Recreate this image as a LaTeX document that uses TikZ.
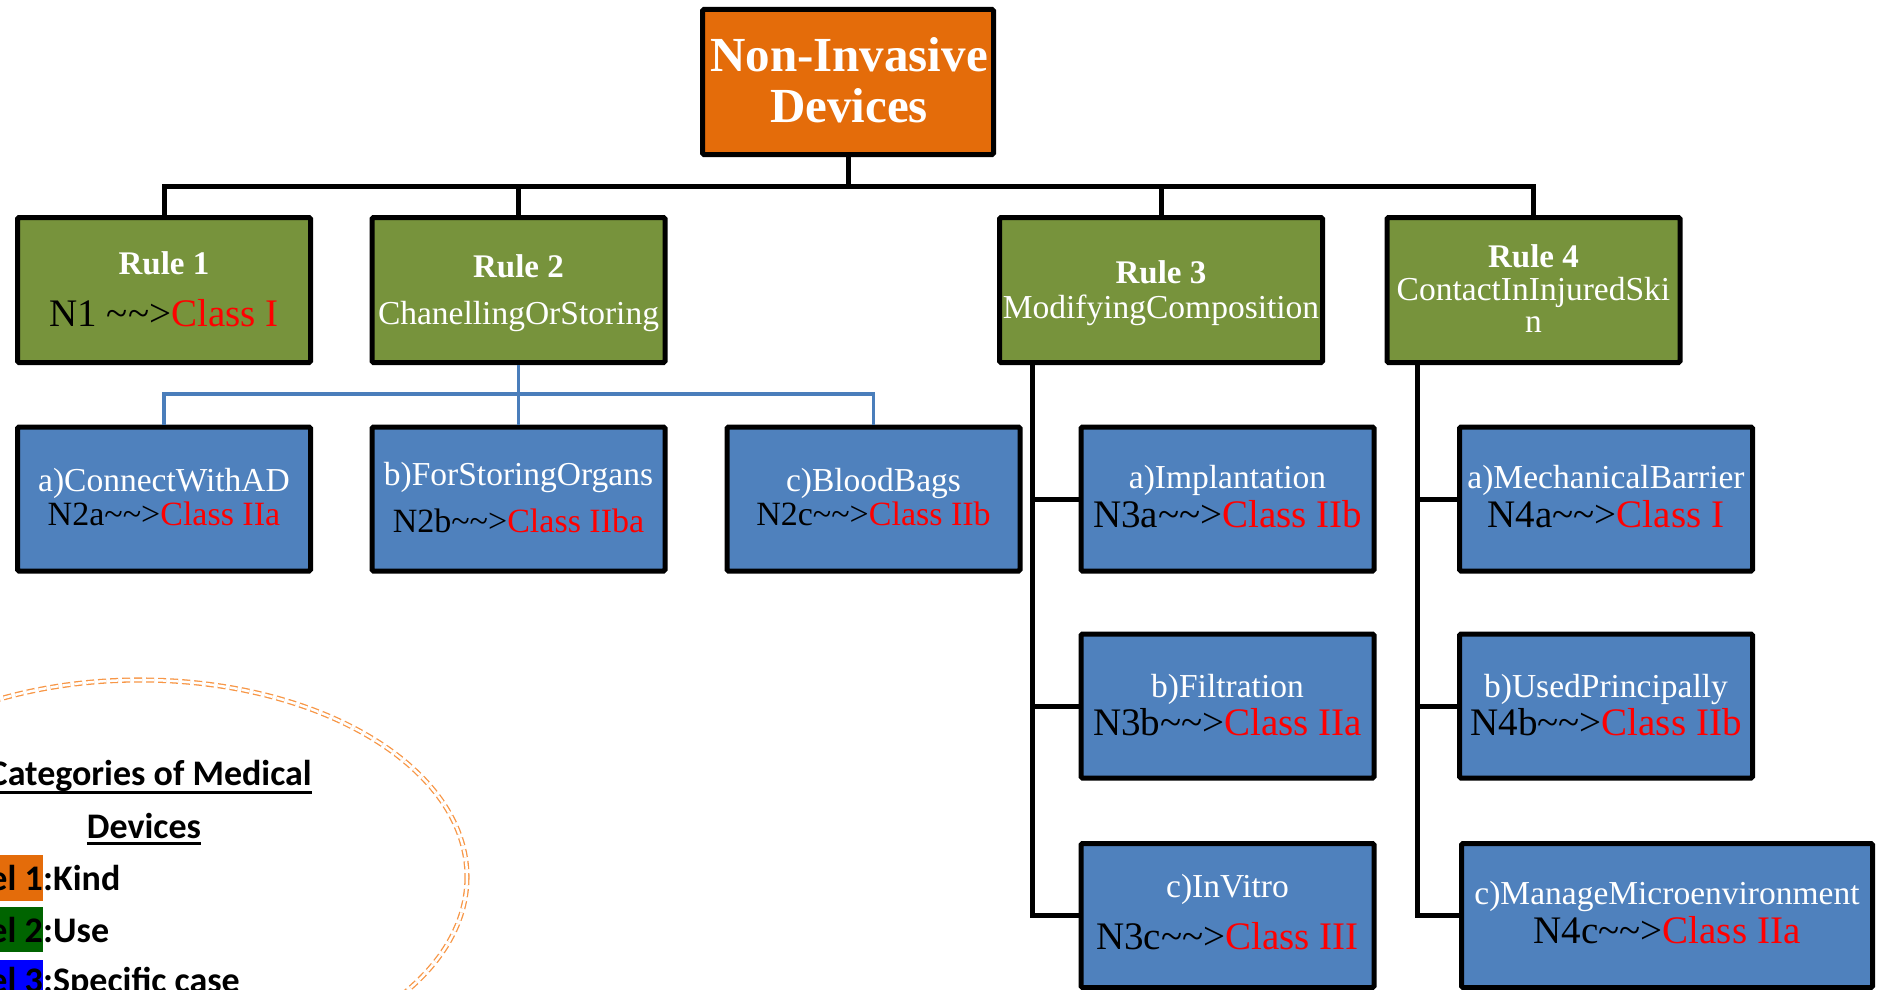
\documentclass[tikz,border=0pt]{standalone}
\usepackage{fontspec}
\setmainfont{Liberation Serif}
\newfontfamily\legfont{Carlito}
\usetikzlibrary{calc}
\definecolor{orgF}{HTML}{E46C0A}
\definecolor{grnF}{HTML}{77933C}
\definecolor{bluF}{HTML}{4F81BD}
\definecolor{bluL}{HTML}{4A7EBB}
\definecolor{redT}{HTML}{FF0000}
\definecolor{ellC}{HTML}{F79646}
\definecolor{lvO}{HTML}{E46C0A}
\definecolor{lvG}{HTML}{006400}
\definecolor{lvB}{HTML}{0000FF}
\newcommand{\mytl}{\textasciitilde\textasciitilde>}
\begin{document}
\begin{tikzpicture}[x=1pt,y=-1pt,
  box/.style={draw=black, line width=5pt, rounded corners=1.5pt, inner sep=0pt, outer sep=0pt,
              minimum width=293pt, minimum height=144pt},
  lvlA/.style={box, fill=orgF},
  lvlB/.style={box, fill=grnF},
  lvlC/.style={box, fill=bluF},
  conn/.style={draw=black, line width=5pt},
  bconn/.style={draw=bluL, line width=3.5pt},
  wt/.style={inner sep=0pt, anchor=base, text=white},
  bt/.style={inner sep=0pt, anchor=base, text=black},
  ttl/.style={font=\bfseries\fontsize{49}{49}\selectfont},
  hd/.style={font=\bfseries\fontsize{33}{33}\selectfont},
  sm/.style={font=\fontsize{33.5}{33.5}\selectfont},
  mid/.style={font=\fontsize{34}{34}\selectfont},
  big/.style={font=\fontsize{39}{39}\selectfont},
  lg/.style={inner sep=0pt, font=\legfont\bfseries\fontsize{36}{40}\selectfont},
]
\useasboundingbox (0,0) rectangle (1883,990);

% ---------- legend ----------
\begin{scope}
\clip (0,0) rectangle (1883,990);
\draw[ellC, line width=1.3pt, double=white, double distance=2.5pt, dash pattern=on 8pt off 4pt]
  (140,877) ellipse [x radius=327, y radius=197];
\node[lg, anchor=base east] (cat) at (312,785) {Categories of Medical};
\draw[line width=3pt] ($(cat.base west)+(0,7)$) -- ($(cat.base east)+(0,7)$);
\node[lg, anchor=base] (dev) at (144,838) {Devices};
\draw[line width=3pt] ($(dev.base west)+(0,5)$) -- ($(dev.base east)+(0,5)$);
\node[lg, anchor=base east, fill=lvO, text height=35pt, text depth=11pt] (l1) at (43,890) {Level 1};
\node[lg, anchor=base west] (k1) at (43,890) {:Kind};
\node[lg, anchor=base east, fill=lvG, text height=35pt, text depth=10pt] (l2) at (43,942) {Level 2};
\node[lg, anchor=base west] (k2) at (43,942) {:Use};
\node[lg, anchor=base east, fill=lvB, text height=32pt, text depth=10pt] (l3) at (43,992) {Level 3};
\node[lg, anchor=base west] (k3) at (43,992) {:Specific case};
\end{scope}

% ---------- boxes ----------
\node[lvlA, minimum width=291pt, minimum height=145pt] (top) at (848,82) {};
\node[wt, ttl] (topA) at (849,72) {Non-Invasive};
\node[wt, ttl] (topB) at (849,122) {Devices};

\node[lvlB, minimum height=145pt] (r1) at (164,290) {};
\node[lvlB, minimum height=145pt] (r2) at (518.5,290) {};
\node[lvlB, minimum height=145pt, minimum width=323pt] (r3) at (1161,290) {};
\node[lvlB, minimum height=145pt] (r4) at (1533.5,290) {};

\node[wt, hd] (r1a) at (164,274) {Rule 1};
\node[bt, big] (r1b) at (164,326) {N1 \mytl\textcolor{redT}{Class I}};
\node[wt, hd] (r2a) at (518.5,277) {Rule 2};
\node[wt, sm] (r2b) at (518.5,324) {ChanellingOrStoring};
\node[wt, hd] (r3a) at (1161,283) {Rule 3};
\node[wt, sm] (r3b) at (1161,318) {ModifyingComposition};
\node[wt, hd] (r4a) at (1533.5,267) {Rule 4};
\node[wt, sm] (r4b) at (1533.5,300) {ContactInInjuredSki};
\node[wt, sm] (r4c) at (1533.5,332) {n};

\node[lvlC] (b2a) at (164,499) {};
\node[lvlC] (b2b) at (518.5,499) {};
\node[lvlC] (b2c) at (873.5,499) {};
\node[lvlC] (b3a) at (1227.5,499) {};
\node[lvlC] (b4a) at (1606,499) {};
\node[lvlC] (b3b) at (1227.5,706) {};
\node[lvlC] (b4b) at (1606,706) {};
\node[lvlC] (b3c) at (1227.5,915.5) {};
\node[lvlC, minimum width=411pt] (b4c) at (1667,915.5) {};

\node[wt, sm] (t2a1) at (164,491) {a)ConnectWithAD};
\node[bt, mid] (t2a2) at (164,525) {N2a\mytl\textcolor{redT}{Class IIa}};
\node[wt, sm] (t2b1) at (518.5,485) {b)ForStoringOrgans};
\node[bt, mid] (t2b2) at (518.5,532) {N2b\mytl\textcolor{redT}{Class IIba}};
\node[wt, sm] (t2c1) at (873.5,491) {c)BloodBags};
\node[bt, mid] (t2c2) at (873.5,525) {N2c\mytl\textcolor{redT}{Class IIb}};
\node[wt, sm] (t3a1) at (1227.5,488) {a)Implantation};
\node[bt, big] (t3a2) at (1227.5,527) {N3a\mytl\textcolor{redT}{Class IIb}};
\node[wt, sm] (t4a1) at (1606,488) {a)MechanicalBarrier};
\node[bt, big] (t4a2) at (1606,527) {N4a\mytl\textcolor{redT}{Class I}};
\node[wt, sm] (t3b1) at (1227.5,697) {b)Filtration};
\node[bt, big] (t3b2) at (1227.5,735) {N3b\mytl\textcolor{redT}{Class IIa}};
\node[wt, sm] (t4b1) at (1606,697) {b)UsedPrincipally};
\node[bt, big] (t4b2) at (1606,735) {N4b\mytl\textcolor{redT}{Class IIb}};
\node[wt, sm] (t3c1) at (1227.5,897) {c)InVitro};
\node[bt, big] (t3c2) at (1227.5,949) {N3c\mytl\textcolor{redT}{Class III}};
\node[wt, sm] (t4c1) at (1667,904) {c)ManageMicroenvironment};
\node[bt, big] (t4c2) at (1667,943) {N4c\mytl\textcolor{redT}{Class IIa}};

% ---------- connectors ----------
\draw[conn] (top.south) -- ++(0,31);
\draw[conn] (r1.north) -- ++(0,-31) -| (r4.north);
\draw[conn] (r2.north) -- ++(0,-31);
\draw[conn] (r3.north) -- ++(0,-31);

\draw[bconn, shorten <=2.5pt] (r2.south) -- ++(0,31.5) coordinate (bb);
\draw[bconn, shorten >=2.5pt] (bb) -| (b2a.north);
\draw[bconn, shorten >=2.5pt] (bb) -| (b2c.north);
\draw[bconn, shorten >=2.5pt] (bb) -- (b2b.north);

\coordinate (s3) at ($(r3.south west)+(32.5,0)$);
\draw[conn] (s3) |- (b3c.west);
\draw[conn] (b3a.west) -- (b3a.west -| s3);
\draw[conn] (b3b.west) -- (b3b.west -| s3);

\coordinate (s4) at ($(r4.south west)+(30,0)$);
\draw[conn] (s4) |- (b4c.west);
\draw[conn] (b4a.west) -- (b4a.west -| s4);
\draw[conn] (b4b.west) -- (b4b.west -| s4);
\end{tikzpicture}
\end{document}
